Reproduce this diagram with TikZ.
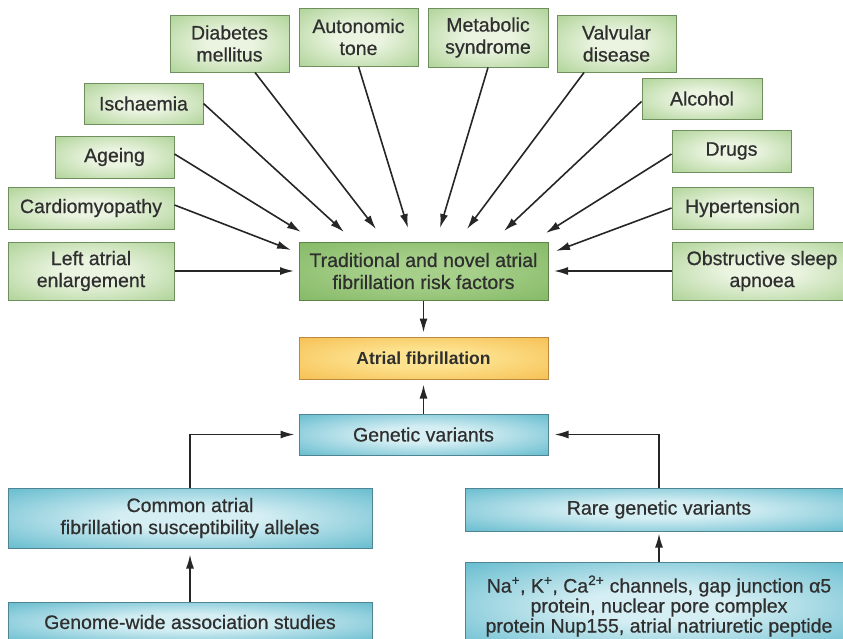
\documentclass[tikz,border=0pt]{standalone}
\usepackage{fontspec}
\setmainfont{Liberation Sans}
\newfontfamily\boxfont{Liberation Sans}[FakeBold=0.6]
\usetikzlibrary{arrows.meta}
\definecolor{gin}{HTML}{EAF4E0}
\definecolor{gout}{HTML}{98C67B}
\definecolor{gline}{HTML}{6F8F5E}
\definecolor{tin}{HTML}{A6D08A}
\definecolor{tout}{HTML}{79B059}
\definecolor{tline}{HTML}{5B8446}
\definecolor{yin}{HTML}{FDE390}
\definecolor{yout}{HTML}{F3B23C}
\definecolor{yline}{HTML}{B98A3E}
\definecolor{bin}{HTML}{D4EEF3}
\definecolor{bout}{HTML}{3AA8C0}
\definecolor{bline}{HTML}{4F8593}
\definecolor{txt}{HTML}{2F2F2F}
\definecolor{arr}{HTML}{262626}
\pgfdeclareradialshading{greenglow}{\pgfpoint{0bp}{0bp}}{color(0bp)=(gin); color(10bp)=(gin); color(46bp)=(gout); color(72bp)=(gout)}
\pgfdeclareradialshading{tradglow}{\pgfpoint{0bp}{0bp}}{color(0bp)=(tin); color(10bp)=(tin); color(46bp)=(tout); color(72bp)=(tout)}
\pgfdeclareradialshading{yellowglow}{\pgfpoint{0bp}{0bp}}{color(0bp)=(yin); color(10bp)=(yin); color(46bp)=(yout); color(72bp)=(yout)}
\pgfdeclareradialshading{blueglow}{\pgfpoint{0bp}{0bp}}{color(0bp)=(bin); color(10bp)=(bin); color(46bp)=(bout); color(72bp)=(bout)}
\tikzset{
  basebox/.style={rectangle, inner sep=0pt, align=center, text=txt,
    font=\boxfont\fontsize{19.5}{22}\selectfont, line width=1pt},
  gbox/.style={basebox, draw=gline, shading=greenglow},
  tbox/.style={basebox, draw=tline, shading=tradglow},
  ybox/.style={basebox, draw=yline, shading=yellowglow, font=\fontsize{17.5}{20}\bfseries\selectfont},
  bbox/.style={basebox, draw=bline, shading=blueglow},
  arrline/.style={draw=arr, line width=1.6pt, -{Latex[length=14pt,width=8pt]}},
}
\begin{document}
\begin{tikzpicture}[x=1pt,y=-1pt]
\useasboundingbox (0,0) rectangle (843,638);
\clip (0,0) rectangle (843,638);
% risk factor boxes
\node[gbox, minimum width=119pt, minimum height=57pt] (dm) at (229.5,43.5) {Diabetes\\mellitus};
\node[gbox, minimum width=119pt, minimum height=58pt] (aut) at (358.5,37) {Autonomic\\tone};
\node[gbox, minimum width=120pt, minimum height=59pt] (ms) at (488,37.5) {Metabolic\\syndrome};
\node[gbox, minimum width=119pt, minimum height=57pt] (vd) at (616.5,43.5) {Valvular\\disease};
\node[gbox, minimum width=119pt, minimum height=41pt] (isch) at (143.5,103.5) {Ischaemia};
\node[gbox, minimum width=120pt, minimum height=41pt] (alc) at (702,98.5) {Alcohol};
\node[gbox, minimum width=119pt, minimum height=42pt] (age) at (114.5,157) {Ageing};
\node[gbox, minimum width=119pt, minimum height=42pt] (drugs) at (731.5,151) {Drugs};
\node[gbox, minimum width=166pt, minimum height=42pt] (cm) at (91,208) {Cardiomyopathy};
\node[gbox, minimum width=141pt, minimum height=42pt] (hyp) at (742.5,208) {Hypertension};
\node[gbox, minimum width=166pt, minimum height=58pt] (lae) at (91,271) {Left atrial\\enlargement};
\node[gbox, minimum width=180pt, minimum height=58pt] (osa) at (762,271) {Obstructive sleep\\apnoea};
% central chain
\node[tbox, minimum width=249pt, minimum height=58pt] (trad) at (423.5,271) {Traditional and novel atrial\\fibrillation risk factors};
\node[ybox, minimum width=249pt, minimum height=42pt] (af) at (423.5,358) {Atrial fibrillation};
\node[bbox, minimum width=249pt, minimum height=41pt] (gv) at (423.5,434.5) {Genetic variants};
% genetic boxes
\node[bbox, minimum width=364pt, minimum height=60pt] (common) at (190,518) {Common atrial\\fibrillation susceptibility alleles};
\node[bbox, minimum width=364pt, minimum height=40pt] (gwas) at (190,622) {Genome-wide association studies};
\node[bbox, minimum width=388pt, minimum height=43pt] (rare) at (659,509.5) {Rare genetic variants};
\node[bbox, minimum width=388pt, minimum height=88pt, font=\boxfont\fontsize{19.5}{20}\selectfont] (ion) at (659,606) {Na\textsuperscript{+}, K\textsuperscript{+}, Ca\textsuperscript{2+} channels, gap junction α5\\protein, nuclear pore complex\\protein Nup155, atrial natriuretic peptide};
% arrow tips (free ends)
\coordinate (tlae) at (294,271);
\coordinate (tcm) at (291,250);
\coordinate (tage) at (301,232);
\coordinate (tisch) at (344,232);
\coordinate (tdm) at (376,229);
\coordinate (taut) at (408,228);
\coordinate (tms) at (440,228);
\coordinate (tvd) at (467,229);
\coordinate (talc) at (504,231);
\coordinate (tdrugs) at (546,233);
\coordinate (thyp) at (556,251);
\coordinate (tosa) at (554,271);
% risk arrows
\draw[arrline] (lae.east) -- (tlae);
\draw[arrline] ([yshift=3pt]cm.east) -- (tcm);
\draw[arrline] ([yshift=3pt]age.east) -- (tage);
\draw[arrline] (isch.east) -- (tisch);
\draw[arrline] ([xshift=25.5pt]dm.south) -- (tdm);
\draw[arrline] (aut.south) -- (taut);
\draw[arrline] (ms.south) -- (tms);
\draw[arrline] ([xshift=-32.5pt]vd.south) -- (tvd);
\draw[arrline] ([yshift=-3pt]alc.west) -- (talc);
\draw[arrline] ([yshift=-3pt]drugs.west) -- (tdrugs);
\draw[arrline] (hyp.west) -- (thyp);
\draw[arrline] (osa.west) -- (tosa);
% chain arrows
\draw[arrline, shorten >=4pt] (trad.south) -- (af.north);
\draw[arrline, shorten >=5pt] (gv.north) -- (af.south);
\draw[arrline, shorten >=4pt] (common.north) |- (gv.west);
\draw[arrline, shorten >=6pt] (rare.north) |- (gv.east);
\draw[arrline, shorten >=6pt] (gwas.north) -- (common.south);
\draw[arrline, shorten >=2pt] (ion.north) -- (rare.south);
\end{tikzpicture}
\end{document}
